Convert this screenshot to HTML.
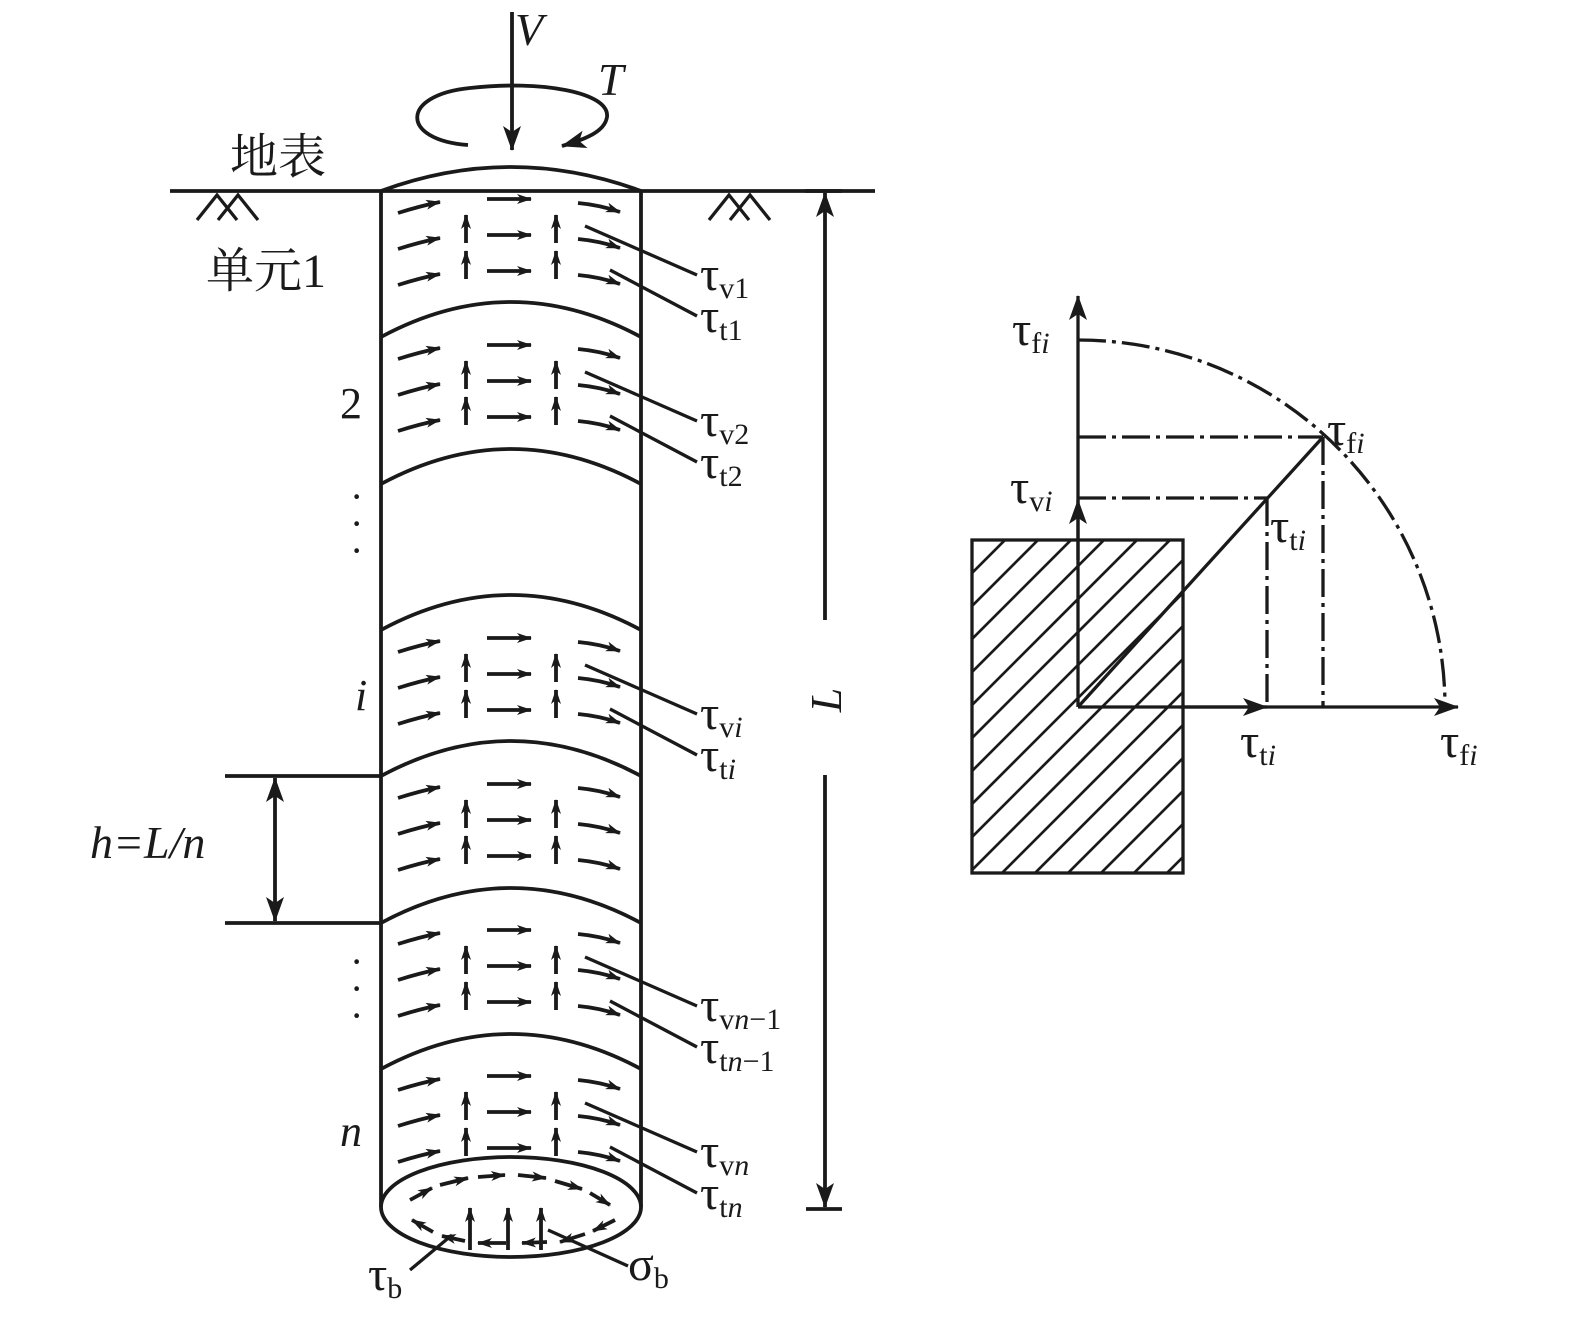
<!DOCTYPE html>
<html><head><meta charset="utf-8"><style>
html,body{margin:0;padding:0;background:#fff;}
svg{display:block;}
text{font-family:"Liberation Serif","Noto Serif CJK SC",serif;fill:#1a1a1a;}
.cj{font-family:"Liberation Serif","Noto Serif CJK SC","Noto Sans CJK SC",serif;}
.t{font-size:48px;}
.s{font-size:30px;}
.i{font-style:italic;}
</style></head><body>
<svg width="1575" height="1323" viewBox="0 0 1575 1323" xmlns="http://www.w3.org/2000/svg" font-family="Liberation Serif, serif">
<defs>
<marker id="ah" markerUnits="userSpaceOnUse" markerWidth="16" markerHeight="12" refX="14" refY="5" orient="auto"><path d="M0,0 L15,5 L0,10 L4,5 z" fill="#1a1a1a"/></marker>
<marker id="ab" markerUnits="userSpaceOnUse" markerWidth="26" markerHeight="22" refX="24" refY="9" orient="auto"><path d="M0,0 L25,9 L0,18 L6,9 z" fill="#1a1a1a"/></marker>
<g id="seg" stroke="#1a1a1a" stroke-width="3.8" fill="none">
<path d="M398,213 Q420,206 440,202" marker-end="url(#ah)"/>
<path d="M398,249 Q420,242 440,238" marker-end="url(#ah)"/>
<path d="M398,285 Q420,278 440,274" marker-end="url(#ah)"/>
<path d="M487,199 L531,199" marker-end="url(#ah)"/>
<path d="M487,235 L531,235" marker-end="url(#ah)"/>
<path d="M487,271 L531,271" marker-end="url(#ah)"/>
<path d="M578,203 Q600,205 620,212" marker-end="url(#ah)"/>
<path d="M578,239 Q600,241 620,248" marker-end="url(#ah)"/>
<path d="M578,275 Q600,277 620,284" marker-end="url(#ah)"/>
<path d="M466,243 L466,215" marker-end="url(#ah)"/>
<path d="M466,279 L466,251" marker-end="url(#ah)"/>
<path d="M556,243 L556,215" marker-end="url(#ah)"/>
<path d="M556,279 L556,251" marker-end="url(#ah)"/>
</g>
<g id="lead" stroke="#1a1a1a" stroke-width="3.3">
<line x1="585" y1="226" x2="697" y2="275"/>
<line x1="610" y1="270" x2="697" y2="316"/>
</g>
<clipPath id="rc"><rect x="972" y="540" width="211" height="333"/></clipPath>
</defs>

<g stroke="#1a1a1a" stroke-width="3.8" fill="none">
<line x1="512" y1="12" x2="512" y2="150" marker-end="url(#ab)"/>
<path d="M468,145 C400,140 400,95 470,88 C540,80 610,92 607,117 C605,130 590,138 562,146" marker-end="url(#ab)"/>
<line x1="170" y1="191" x2="875" y2="191"/>
<path d="M197,220 L217,195 L237,220 M218,220 L238,195 L258,220" stroke-width="3.3"/>
<path d="M709,220 L729,195 L749,220 M730,220 L750,195 L770,220" stroke-width="3.3"/>
<path d="M381,191 Q511,143 641,191"/>
<line x1="381" y1="191" x2="381" y2="1207"/>
<line x1="641" y1="191" x2="641" y2="1207"/>
<path d="M381,337 Q511,267 641,337"/>
<path d="M381,484 Q511,414 641,484"/>
<path d="M381,630 Q511,560 641,630"/>
<path d="M381,776 Q511,706 641,776"/>
<path d="M381,923 Q511,853 641,923"/>
<path d="M381,1069 Q511,999 641,1069"/>
<ellipse cx="511" cy="1207" rx="130" ry="50"/>
<line x1="225" y1="776" x2="381" y2="776"/>
<line x1="225" y1="923" x2="381" y2="923"/>
<line x1="275" y1="850" x2="275" y2="778" marker-end="url(#ab)"/>
<line x1="275" y1="850" x2="275" y2="921" marker-end="url(#ab)"/>
<line x1="805" y1="191" x2="842" y2="191"/>
<line x1="806" y1="1209" x2="842" y2="1209"/>
<line x1="825" y1="620" x2="825" y2="193" marker-end="url(#ab)"/>
<line x1="825" y1="775" x2="825" y2="1207" marker-end="url(#ab)"/>
</g>

<use href="#seg"/>
<use href="#seg" y="146"/>
<use href="#seg" y="439"/>
<use href="#seg" y="585"/>
<use href="#seg" y="731"/>
<use href="#seg" y="877"/>
<use href="#lead"/>
<use href="#lead" y="146"/>
<use href="#lead" y="439"/>
<use href="#lead" y="731"/>
<use href="#lead" y="877"/>

<g stroke="#1a1a1a" stroke-width="3.8" fill="none">
<line x1="410" y1="1200" x2="432" y2="1188" marker-end="url(#ah)"/>
<line x1="440" y1="1185" x2="468" y2="1178" marker-end="url(#ah)"/>
<line x1="478" y1="1177" x2="505" y2="1175" marker-end="url(#ah)"/>
<line x1="518" y1="1175" x2="546" y2="1178" marker-end="url(#ah)"/>
<line x1="555" y1="1181" x2="582" y2="1189" marker-end="url(#ah)"/>
<line x1="590" y1="1193" x2="610" y2="1205" marker-end="url(#ah)"/>
<line x1="615" y1="1220" x2="593" y2="1231" marker-end="url(#ah)"/>
<line x1="585" y1="1234" x2="560" y2="1242" marker-end="url(#ah)"/>
<line x1="547" y1="1242" x2="522" y2="1243" marker-end="url(#ah)"/>
<line x1="506" y1="1243" x2="478" y2="1243" marker-end="url(#ah)"/>
<line x1="465" y1="1241" x2="442" y2="1236" marker-end="url(#ah)"/>
<line x1="433" y1="1232" x2="412" y2="1220" marker-end="url(#ah)"/>
<line x1="470" y1="1250" x2="470" y2="1208" marker-end="url(#ah)"/>
<line x1="508" y1="1250" x2="508" y2="1208" marker-end="url(#ah)"/>
<line x1="541" y1="1250" x2="541" y2="1208" marker-end="url(#ah)"/>
<line x1="452" y1="1235" x2="410" y2="1270" stroke-width="3.3"/>
<line x1="548" y1="1230" x2="628" y2="1266" stroke-width="3.3"/>
</g>

<text x="515" y="45" class="i" font-size="46">V</text>
<text x="598" y="95" class="i" font-size="46">T</text>
<text x="230" y="173" class="cj" font-size="48">地表</text>
<text x="206" y="287" class="cj" font-size="48">单元1</text>
<text x="340" y="418" font-size="44">2</text>
<text x="350" y="510" font-size="40">·</text>
<text x="350" y="537" font-size="40">·</text>
<text x="350" y="564" font-size="40">·</text>
<text x="355" y="710" class="i" font-size="44">i</text>
<text x="350" y="975" font-size="40">·</text>
<text x="350" y="1002" font-size="40">·</text>
<text x="350" y="1029" font-size="40">·</text>
<text x="340" y="1146" class="i" font-size="44">n</text>
<text x="90" y="858" class="i" font-size="46">h=L/n</text>
<text x="0" y="0" class="i" font-size="44" text-anchor="middle" transform="translate(841,700) rotate(-90)">L</text>

<g>
<text x="700" y="290" class="t">τ<tspan class="s" dy="8">v1</tspan></text>
<text x="700" y="332" class="t">τ<tspan class="s" dy="8">t1</tspan></text>
<text x="700" y="436" class="t">τ<tspan class="s" dy="8">v2</tspan></text>
<text x="700" y="478" class="t">τ<tspan class="s" dy="8">t2</tspan></text>
<text x="700" y="729" class="t">τ<tspan class="s" dy="8">v<tspan class="i">i</tspan></tspan></text>
<text x="700" y="771" class="t">τ<tspan class="s" dy="8">t<tspan class="i">i</tspan></tspan></text>
<text x="700" y="1021" class="t">τ<tspan class="s" dy="8">v<tspan class="i">n</tspan>−1</tspan></text>
<text x="700" y="1063" class="t">τ<tspan class="s" dy="8">t<tspan class="i">n</tspan>−1</tspan></text>
<text x="700" y="1167" class="t">τ<tspan class="s" dy="8">v<tspan class="i">n</tspan></tspan></text>
<text x="700" y="1209" class="t">τ<tspan class="s" dy="8">t<tspan class="i">n</tspan></tspan></text>
<text x="368" y="1290" class="t">τ<tspan class="s" dy="8">b</tspan></text>
<text x="628" y="1280" class="t">σ<tspan class="s" dy="8">b</tspan></text>
</g>

<g stroke="#1a1a1a" stroke-width="3.3" fill="none">
<rect x="972" y="540" width="211" height="333"/>
<g clip-path="url(#rc)" stroke-width="2.7">
<path d="M972,573 l340,-340 M972,606 l340,-340 M972,639 l340,-340 M972,672 l340,-340 M972,705 l340,-340 M972,738 l340,-340 M972,771 l340,-340 M972,804 l340,-340 M972,837 l340,-340 M972,870 l340,-340 M972,903 l340,-340 M972,936 l340,-340 M972,969 l340,-340 M972,1002 l340,-340 M972,1035 l340,-340 M972,1068 l340,-340 M972,1101 l340,-340 M972,1134 l340,-340 M972,1167 l340,-340"/>
</g>
<line x1="1078" y1="707" x2="1078" y2="296" marker-end="url(#ab)"/>
<line x1="1078" y1="560" x2="1078" y2="500" marker-end="url(#ab)"/>
<line x1="1078" y1="707" x2="1458" y2="707" marker-end="url(#ab)"/>
<line x1="1180" y1="707" x2="1267" y2="707" marker-end="url(#ab)"/>
<line x1="1078" y1="707" x2="1323" y2="437"/>
<g stroke-dasharray="28,6,4,6">
<path d="M1078,340 A367,367 0 0 1 1445,707"/>
<line x1="1078" y1="437" x2="1323" y2="437"/>
<line x1="1323" y1="437" x2="1323" y2="707"/>
<line x1="1078" y1="498" x2="1267" y2="498"/>
<line x1="1267" y1="498" x2="1267" y2="707"/>
</g>
</g>
<text x="1012" y="345" class="t">τ<tspan class="s" dy="8">f<tspan class="i">i</tspan></tspan></text>
<text x="1327" y="445" class="t">τ<tspan class="s" dy="8">f<tspan class="i">i</tspan></tspan></text>
<text x="1010" y="503" class="t">τ<tspan class="s" dy="8">v<tspan class="i">i</tspan></tspan></text>
<text x="1270" y="542" class="t">τ<tspan class="s" dy="8">t<tspan class="i">i</tspan></tspan></text>
<text x="1240" y="757" class="t">τ<tspan class="s" dy="8">t<tspan class="i">i</tspan></tspan></text>
<text x="1440" y="757" class="t">τ<tspan class="s" dy="8">f<tspan class="i">i</tspan></tspan></text>
</svg>
</body></html>
